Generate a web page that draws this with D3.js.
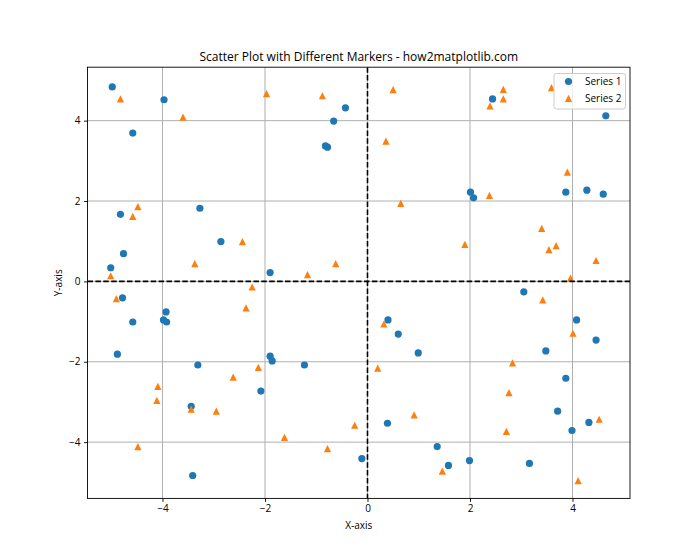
<!DOCTYPE html>
<html>
<head>
<meta charset="utf-8">
<script src="https://cdn.jsdelivr.net/npm/d3@7"></script>
<style>
  html, body { margin: 0; padding: 0; background: #fff; }
  svg { display: block; font-family: "Open Sans", "DejaVu Sans", sans-serif; }
</style>
</head>
<body>
<svg id="chart" width="700" height="560"></svg>
<script>
const series1X = [-4.98, -3.97, -4.58, -0.66, -0.43, -0.82, -0.78, -4.82, -3.27, -4.76, -2.86, -5.01, -1.90,
  2.44, 4.65, 2.01, 2.07, 3.87, 4.28, 4.60,
  -4.78, -3.93, -3.98, -3.92, -4.58, -4.88, -3.31, -1.90, -1.86, -1.23, -2.08, -3.44, -0.11, -3.41,
  3.05, 0.40, 0.60, 0.99, 4.08, 4.46, 3.48, 3.87, 3.71, 4.32, 3.99, 0.39, 1.36, 1.58, 1.99, 3.16];
const series1Y = [4.84, 4.52, 3.69, 3.99, 4.32, 3.37, 3.34, 1.67, 1.82, 0.69, 0.99, 0.34, 0.22,
  4.54, 4.12, 2.22, 2.08, 2.22, 2.27, 2.17,
  -0.41, -0.76, -0.96, -1.01, -1.01, -1.81, -2.08, -1.86, -1.98, -2.08, -2.73, -3.11, -4.41, -4.83,
  -0.26, -0.96, -1.31, -1.78, -0.96, -1.46, -1.73, -2.41, -3.23, -3.51, -3.71, -3.53, -4.11, -4.58, -4.46, -4.53];
const series2X = [-4.82, -3.60, -1.97, -0.88, -4.48, -4.58, -2.44, -3.37, -1.17, -0.62, -5.01, -2.25,
  0.50, 2.65, 2.65, 2.39, 3.59, 0.36, 3.90, 2.38, 0.65, 3.40, 1.90, 3.68, 3.54, 4.46, 3.96,
  -4.90, -2.37, -2.13, -2.62, -4.09, -4.11, -3.44, -2.95, -4.48, -1.62, -0.78, -0.25, 0.20,
  3.42, 0.32, 4.01, 2.83, 2.76, 0.91, 4.52, 2.71, 1.46, 4.11];
const series2Y = [4.54, 4.09, 4.67, 4.62, 1.86, 1.62, 0.99, 0.44, 0.17, 0.44, 0.14, -0.14,
  4.77, 4.78, 4.54, 4.37, 4.82, 3.49, 2.72, 2.14, 1.94, 1.32, 0.92, 0.89, 0.79, 0.52, 0.08,
  -0.43, -0.66, -2.14, -2.38, -2.61, -2.96, -3.18, -3.23, -4.11, -3.88, -4.16, -3.58, -2.16,
  -0.46, -1.06, -1.29, -2.03, -2.77, -3.32, -3.43, -3.73, -4.72, -4.96];
const xTicks = [-4, -2, 0, 2, 4];
const yTicks = [-4, -2, 0, 2, 4];
const seriesNames = ["Series 1", "Series 2"];
const titleText = "Scatter Plot with Different Markers - how2matplotlib.com";
const xLabel = "X-axis";
const yLabel = "Y-axis";

const colors = ["#1f77b4", "#ff7f0e"];
const svg = d3.select("#chart");
const L = 87.5, R = 630, T = 67.2, B = 498.4;
const x = d3.scaleLinear().domain([-5.463, 5.122]).range([L, R]);
const y = d3.scaleLinear().domain([-5.40, 5.33]).range([B, T]);

const g = svg.append("g");
// grid
g.append("g").selectAll("line").data(xTicks).join("line")
  .attr("x1", d => x(d)).attr("x2", d => x(d)).attr("y1", T).attr("y2", B)
  .attr("stroke", "#b0b0b0").attr("stroke-width", 1);
g.append("g").selectAll("line").data(yTicks).join("line")
  .attr("y1", d => y(d)).attr("y2", d => y(d)).attr("x1", L).attr("x2", R)
  .attr("stroke", "#b0b0b0").attr("stroke-width", 1);

svg.append("clipPath").attr("id", "clip").append("rect")
  .attr("x", L).attr("y", T).attr("width", R - L).attr("height", B - T);

const pts1 = series1X.map((d, i) => [d, series1Y[i]]);
const pts2 = series2X.map((d, i) => [d, series2Y[i]]);
const plot = svg.append("g").attr("clip-path", "url(#clip)");
const rad = 3.6;
plot.append("g").selectAll("circle").data(pts1).join("circle")
  .attr("cx", d => x(d[0])).attr("cy", d => y(d[1])).attr("r", rad)
  .attr("fill", colors[0]);
const tri = "M0,-3.6L-3.6,3.6L3.6,3.6Z";
plot.append("g").selectAll("path").data(pts2).join("path")
  .attr("transform", d => `translate(${x(d[0])},${y(d[1])})`)
  .attr("d", tri).attr("fill", colors[1]);

// dashed zero lines
plot.append("line").attr("x1", L).attr("x2", R).attr("y1", y(0)).attr("y2", y(0))
  .attr("stroke", "#000").attr("stroke-width", 1.6).attr("stroke-dasharray", "5.5,2.4");
plot.append("line").attr("y1", T).attr("y2", B).attr("x1", x(0)).attr("x2", x(0))
  .attr("stroke", "#000").attr("stroke-width", 1.6).attr("stroke-dasharray", "5.5,2.4");

// axes
const fmt = d => d < 0 ? "\u2212" + Math.abs(d) : d;
const xAxis = d3.axisBottom(x).tickValues(xTicks).tickSize(3.5).tickPadding(3.5).tickFormat(fmt);
const yAxis = d3.axisLeft(y).tickValues(yTicks).tickSize(3.5).tickPadding(3.5).tickFormat(fmt);
const gx = svg.append("g").attr("transform", `translate(0,${B})`).call(xAxis);
const gy = svg.append("g").attr("transform", `translate(${L},0)`).call(yAxis);
[gx, gy].forEach(a => {
  a.select(".domain").remove();
  a.selectAll("line").attr("stroke", "#000").attr("stroke-width", 0.9);
  a.selectAll("text").attr("font-size", 10).attr("fill", "#000")
    .attr("font-family", "'Open Sans', sans-serif");
});
// spines
svg.append("rect").attr("x", L).attr("y", T).attr("width", R - L).attr("height", B - T)
  .attr("fill", "none").attr("stroke", "#000").attr("stroke-width", 0.9);

// title and labels
svg.append("text").attr("x", (L + R) / 2).attr("y", 61).attr("text-anchor", "middle")
  .attr("font-size", 12).text(titleText);
svg.append("text").attr("x", (L + R) / 2).attr("y", 529).attr("text-anchor", "middle")
  .attr("font-size", 10).text(xLabel);
svg.append("text").attr("transform", `translate(62,${(T + B) / 2}) rotate(-90)`)
  .attr("text-anchor", "middle").attr("font-size", 10).text(yLabel);

// legend
const lg = svg.append("g");
lg.append("rect").attr("x", 554).attr("y", 73.5).attr("width", 71.5).attr("height", 35.5)
  .attr("rx", 2.5).attr("fill", "#fff").attr("fill-opacity", 0.8)
  .attr("stroke", "#cccccc").attr("stroke-width", 1);
lg.append("circle").attr("cx", 568.5).attr("cy", 81.5).attr("r", rad).attr("fill", colors[0]);
lg.append("path").attr("transform", "translate(568.5,98.3)").attr("d", tri).attr("fill", colors[1]);
lg.selectAll("text.lab").data(seriesNames).join("text").attr("class", "lab")
  .attr("x", 585).attr("y", (d, i) => 85 + i * 17).attr("font-size", 10).text(d => d);
</script>
</body>
</html>
